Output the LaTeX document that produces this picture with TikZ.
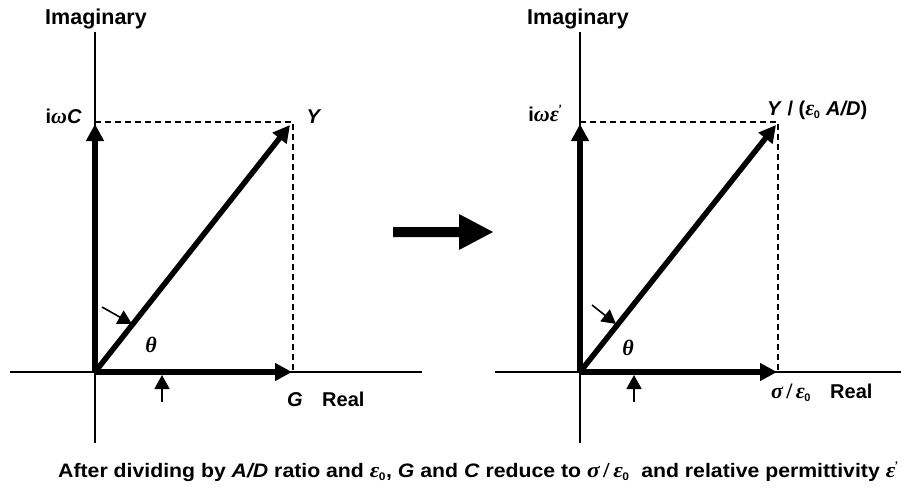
\documentclass[tikz,border=0pt]{standalone}
\usepackage{graphicx}
\usepackage{fontspec}
\setmainfont{Liberation Sans}
\newfontfamily\grk[Scale=1.1]{Liberation Serif}
\usetikzlibrary{arrows.meta}
\newcommand{\gk}[1]{{\grk\bfseries\itshape #1}}
\newcommand{\epz}{\gk{ε}\kern-0.5pt\textsubscript{\fontsize{11}{12}\selectfont 0}}
\begin{document}
\begin{tikzpicture}[x=1pt,y=-1pt,
  axis/.style={line width=1.8pt},
  vec/.style={line width=5.5pt,-{Triangle[length=17pt,width=17pt]}},
  guide/.style={line width=1.4pt,dash pattern=on 6pt off 4pt},
  ptr/.style={line width=1.6pt,-{Triangle[length=14pt,width=15pt]}},
  lbl/.style={font=\fontsize{20}{24}\selectfont\bfseries, inner sep=0pt},
  biglbl/.style={font=\fontsize{21.5}{24}\selectfont\bfseries, inner sep=0pt},
  captext/.style={font=\fontsize{19.5}{22}\selectfont\bfseries, inner sep=0pt}]
\useasboundingbox (0,0) rectangle (901,487);
\fill[white] (0,0) rectangle (901,487);

% ---------- left panel ----------
\coordinate (O1) at (95,372);
\coordinate (L-vt) at (95,32);
\coordinate (L-vb) at (95,443);
\coordinate (L-hl) at (10,372);
\coordinate (L-hr) at (422,372);
\coordinate (L-im) at (95,124);
\coordinate (L-re) at (292,372);
\coordinate (L-y) at (290,125);
\coordinate (L-d1) at (95,122);
\coordinate (L-d2) at (293,122);
\coordinate (L-d3) at (293,372);
\coordinate (L-p1s) at (102,307);
\coordinate (L-p1e) at (132,324);
\coordinate (L-p2s) at (162,402);
\coordinate (L-p2e) at (162,375);

\draw[axis] (L-vt) -- (L-vb);
\draw[axis] (L-hl) -- (L-hr);
\draw[guide] (L-d1) -- (L-d2) -- (L-d3);
\draw[vec] (O1) -- (L-im);
\draw[vec] (O1) -- (L-re);
\draw[vec] (O1) -- (L-y);
\draw[ptr] (L-p1s) -- (L-p1e);
\draw[ptr] (L-p2s) -- (L-p2e);

\node[biglbl, anchor=base] (L-imag) at (96,25) {Imaginary};
\node[lbl, anchor=base east] (L-iwc) at (82,123) {i\gk{ω}\textit{C}};
\node[lbl, anchor=base] (L-ylab) at (314,123) {\textit{Y}};
\node[lbl, anchor=base] (L-th) at (151,352) {\gk{θ}};
\node[lbl, anchor=base] (L-g) at (295,406) {\textit{G}};
\node[lbl, anchor=base west] (L-real) at (322,406) {Real};

% ---------- middle arrow ----------
\fill (393,227) -- (459,227) -- (459,214) -- (493,232) -- (459,250) -- (459,237) -- (393,237) -- cycle;

% ---------- right panel ----------
\coordinate (O2) at (580,372);
\coordinate (R-vt) at (580,32);
\coordinate (R-vb) at (580,443);
\coordinate (R-hl) at (495,372);
\coordinate (R-hr) at (901,372);
\coordinate (R-im) at (580,124);
\coordinate (R-re) at (777,372);
\coordinate (R-y) at (776,125);
\coordinate (R-d1) at (580,122);
\coordinate (R-d2) at (778,122);
\coordinate (R-d3) at (778,372);
\coordinate (R-p1s) at (592,305);
\coordinate (R-p1e) at (616,324);
\coordinate (R-p2s) at (634,402);
\coordinate (R-p2e) at (634,375);

\draw[axis] (R-vt) -- (R-vb);
\draw[axis] (R-hl) -- (R-hr);
\draw[guide] (R-d1) -- (R-d2) -- (R-d3);
\draw[vec] (O2) -- (R-im);
\draw[vec] (O2) -- (R-re);
\draw[vec] (O2) -- (R-y);
\draw[ptr] (R-p1s) -- (R-p1e);
\draw[ptr] (R-p2s) -- (R-p2e);

\node[biglbl, anchor=base] (R-imag) at (578,25) {Imaginary};
\node[lbl, anchor=base east] (R-iwe) at (562,121) {i\gk{ωε}\kern-1pt\textsuperscript{\fontsize{12}{12}\selectfont\textit{'}}};
\node[lbl, anchor=base west] (R-ylab) at (767,115) {\textit{Y} / (\epz\ \textit{A/D})};
\node[lbl, anchor=base] (R-th) at (628,355) {\gk{θ}};
\node[lbl, anchor=base] (R-sig) at (791,398) {\gk{σ}\,{\grk\bfseries /}\,\epz};
\node[lbl, anchor=base west] (R-real) at (830,398) {Real};

% ---------- caption ----------
\node[captext, anchor=base west] (capt) at (58,477) {\resizebox{840pt}{\height}{After dividing by \textit{A/D} ratio and \epz, \textit{G} and \textit{C} reduce to \gk{σ}\,{\grk\bfseries /}\,\epz\ \ and relative permittivity \gk{ε}\kern-1pt\textsuperscript{\fontsize{11}{12}\selectfont\textit{'}}}};
\end{tikzpicture}
\end{document}
